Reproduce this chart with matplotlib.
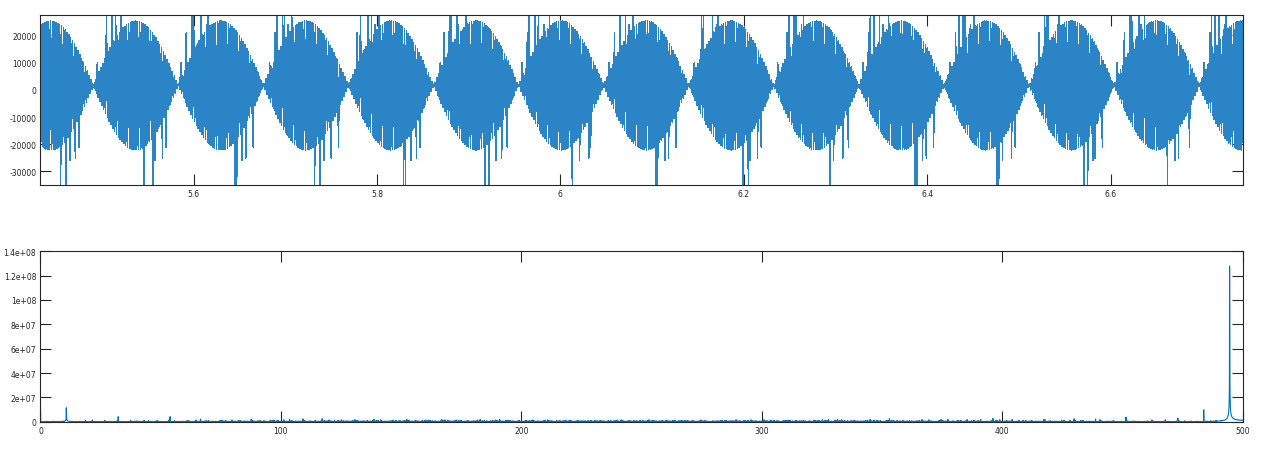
import numpy as np
import matplotlib
matplotlib.use("Agg")
import matplotlib.pyplot as plt
from matplotlib.ticker import FuncFormatter

# recording parameters
fs = 1000.0              # Hz, spectrum axis runs 0..fs/2
n_samples = 12000
carrier_hz = 494.61      # main spectral line
carrier_amp = 23650.0    # half of (25250 + 22060) envelope span
dc_offset = 1600.0       # envelope is shifted up
first_node = 5.4906      # time of a zero of the beat envelope

# glitch pattern repeated in every beat lobe: (position in lobe, value)
spike_pos = [0.05, 0.12, 0.16, 0.20, 0.25, 0.30, 0.34,
             0.63, 0.67, 0.72, 0.79, 0.85]
spike_val = [10000, 21000, 29500, 29500, 29500, 24000, 29500,
             -36500, -36500, -26000, -25000, -21000]
spike_jitter = [0, 2, -1, 3, 1, -2, 0, 1, -3, 2, 1, -1, 0, 2, -2,
                3, -1, 0, -2, 1, 2, -3, 0]

top_xlim = (5.433, 6.744)
top_ylim = (-35000, 27500)
top_yticks = [-30000, -20000, -10000, 0, 10000, 20000]
top_xticks = [5.6, 5.8, 6.0, 6.2, 6.4, 6.6]
bot_xticks = [0, 100, 200, 300, 400, 500]
bot_yticks = [0, 2e7, 4e7, 6e7, 8e7, 1e8, 1.2e8, 1.4e8]

# build the sampled signal
n = np.arange(n_samples)
t = n / fs
beat = fs / 2 - carrier_hz
phase = 2 * np.pi * beat * first_node
x = carrier_amp * np.sin(2 * np.pi * carrier_hz * t + phase) + dc_offset

lobe = 1.0 / (2 * beat)
k0 = int(np.floor(-first_node / lobe))
k1 = int(np.ceil((t[-1] - first_node) / lobe))
for k in range(k0, k1):
    start = first_node + k * lobe
    for j, (p, v) in enumerate(zip(spike_pos, spike_val)):
        idx = int(round((start + p * lobe) * fs)) + spike_jitter[(k * 5 + j * 3) % len(spike_jitter)]
        if idx < 1 or idx >= n_samples - 1:
            continue
        # put the glitch on a sample of the same sign
        if np.sign(x[idx] - dc_offset) != np.sign(v):
            idx += 1
        x[idx] = v

spec = np.abs(np.fft.fft(x))
freqs = np.fft.fftfreq(n_samples, 1 / fs)
half = n_samples // 2 + 1
freqs = np.abs(freqs[:half])
spec = spec[:half]

line_col = "#0072BD"
ax_col = "#262626"

fig = plt.figure(figsize=(12.8, 4.56), dpi=100)
ax1 = fig.add_axes([0.0316, 0.5921, 0.9392, 0.3728])
ax2 = fig.add_axes([0.0316, 0.0730, 0.9392, 0.3737])

ax1.plot(t, x, color="#2a84c6", lw=0.35, antialiased=False)
ax1.set_xlim(*top_xlim)
ax1.set_ylim(*top_ylim)
ax1.set_xticks(top_xticks)
ax1.set_yticks(top_yticks)
ax1.xaxis.set_major_formatter(FuncFormatter(lambda v, p: "%g" % v))
ax1.yaxis.set_major_formatter(FuncFormatter(lambda v, p: "%g" % v))

ax2.plot(freqs, spec, color=line_col, lw=0.8)
ax2.set_xlim(0, 500)
ax2.set_ylim(0, 1.4e8)
ax2.set_xticks(bot_xticks)
ax2.set_yticks(bot_yticks)
ax2.xaxis.set_major_formatter(FuncFormatter(lambda v, p: "%g" % v))
ax2.yaxis.set_major_formatter(FuncFormatter(lambda v, p: "%g" % v))

for ax in (ax1, ax2):
    ax.tick_params(direction="in", length=8, width=0.8, colors=ax_col,
                   labelsize=5.5, top=True, right=True, pad=3)
    for s in ax.spines.values():
        s.set_color(ax_col)
        s.set_linewidth(0.8)

fig.savefig("out.png", dpi=100)
